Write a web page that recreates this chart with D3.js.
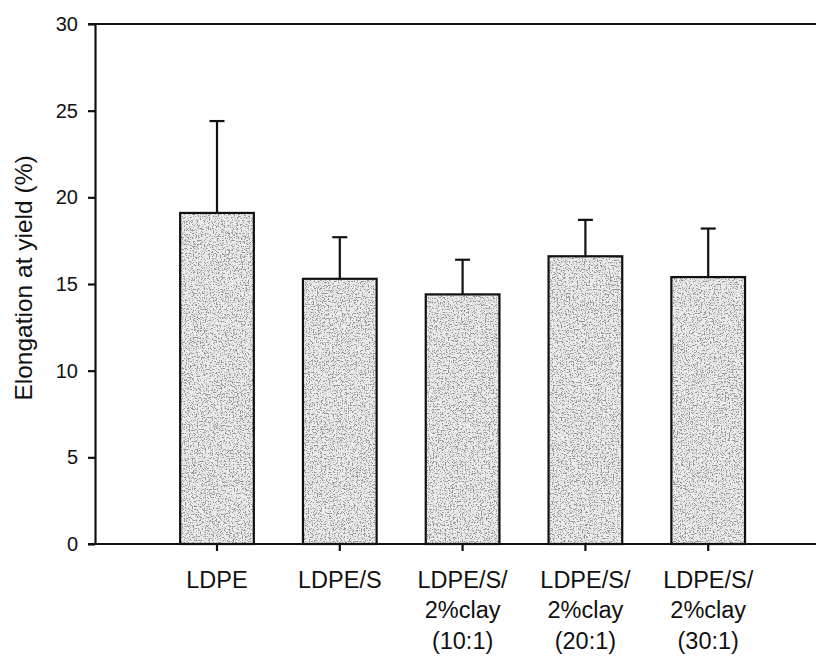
<!DOCTYPE html>
<html>
<head>
<meta charset="utf-8">
<script src="https://cdn.jsdelivr.net/npm/d3@7"></script>
<style>
  html, body { margin: 0; padding: 0; background: #fff; }
  svg { display: block; font-family: "Liberation Sans", Arial, sans-serif; }
</style>
</head>
<body>
<svg id="chart" width="818" height="656"></svg>
<script>
// Elongation at yield for LDPE blends (mean and upper standard deviation)
const categories = [
  ["LDPE"],
  ["LDPE/S"],
  ["LDPE/S/", "2%clay", "(10:1)"],
  ["LDPE/S/", "2%clay", "(20:1)"],
  ["LDPE/S/", "2%clay", "(30:1)"]
];
const means = [19.1, 15.3, 14.4, 16.6, 15.4];
const errors = [5.3, 2.4, 2.0, 2.1, 2.8];
const yTicks = [0, 5, 10, 15, 20, 25, 30];
const yTitle = "Elongation at yield (%)";

const svg = d3.select("#chart");
const keys = categories.map((c, i) => i);

const x = d3.scaleBand()
  .domain(keys)
  .range([94.2, 831])
  .paddingInner(0.4)
  .paddingOuter(0.7);

const y = d3.scaleLinear().domain([0, 30]).range([544, 24]);

// stippled grey texture for the bars
const defs = svg.append("defs");
const f = defs.append("filter").attr("id", "stipple")
  .attr("x", 0).attr("y", 0).attr("width", 1).attr("height", 1);
f.append("feTurbulence").attr("type", "fractalNoise")
  .attr("baseFrequency", 0.75).attr("numOctaves", 3).attr("seed", 11).attr("result", "noise");
f.append("feColorMatrix").attr("in", "noise").attr("type", "matrix")
  .attr("values", "0 0 0 0 0.3  0 0 0 0 0.3  0 0 0 0 0.3  7 0 0 0 -3.55")
  .attr("result", "dots");
f.append("feComposite").attr("in", "dots").attr("in2", "SourceGraphic")
  .attr("operator", "in").attr("result", "dotsIn");
const merge = f.append("feMerge");
merge.append("feMergeNode").attr("in", "SourceGraphic");
merge.append("feMergeNode").attr("in", "dotsIn");

const ink = "#111";

// bars
svg.append("g").selectAll("rect.fill")
  .data(means)
  .join("rect")
  .attr("x", (d, i) => x(i))
  .attr("y", d => y(d))
  .attr("width", x.bandwidth())
  .attr("height", d => y(0) - y(d))
  .attr("fill", "#ececec")
  .attr("filter", "url(#stipple)");

svg.append("g").selectAll("rect.outline")
  .data(means)
  .join("rect")
  .attr("x", (d, i) => x(i))
  .attr("y", d => y(d))
  .attr("width", x.bandwidth())
  .attr("height", d => y(0) - y(d))
  .attr("fill", "none")
  .attr("stroke", ink)
  .attr("stroke-width", 2.2);

// upper error bars
const eb = svg.append("g").attr("stroke", ink).attr("stroke-width", 2.2);
means.forEach((m, i) => {
  const cx = x(i) + x.bandwidth() / 2;
  eb.append("line").attr("x1", cx).attr("x2", cx)
    .attr("y1", y(m)).attr("y2", y(m + errors[i]));
  eb.append("line").attr("x1", cx - 7.5).attr("x2", cx + 7.5)
    .attr("y1", y(m + errors[i])).attr("y2", y(m + errors[i]));
});

// y axis
const yAxis = svg.append("g")
  .attr("transform", "translate(95,0)")
  .attr("font-size", 20)
  .call(d3.axisLeft(y).tickValues(yTicks).tickSize(7).tickPadding(10).tickSizeOuter(0));
yAxis.attr("font-size", 20).attr("font-family", "Liberation Sans, Arial, sans-serif");
yAxis.select(".domain").attr("stroke", ink).attr("stroke-width", 2.2);
yAxis.selectAll(".tick line").attr("stroke", ink).attr("stroke-width", 2.2);
yAxis.selectAll(".tick text").attr("fill", ink);

// top frame line and x axis baseline
svg.append("line").attr("x1", 88).attr("x2", 816)
  .attr("y1", y(30)).attr("y2", y(30))
  .attr("stroke", ink).attr("stroke-width", 2.2);

const xAxis = svg.append("g")
  .attr("transform", `translate(0,${y(0)})`)
  .call(d3.axisBottom(x).tickSize(7).tickSizeOuter(0).tickFormat(() => ""));
xAxis.select(".domain").remove();
xAxis.selectAll(".tick line").attr("stroke", ink).attr("stroke-width", 2.2);
svg.append("line").attr("x1", 88).attr("x2", 816)
  .attr("y1", y(0)).attr("y2", y(0))
  .attr("stroke", ink).attr("stroke-width", 2.2);

// multi-line category labels
const lab = svg.append("g").attr("font-size", 23.5).attr("fill", ink).attr("text-anchor", "middle");
categories.forEach((lines, i) => {
  const t = lab.append("text")
    .attr("x", x(i) + x.bandwidth() / 2)
    .attr("y", 587.5);
  lines.forEach((s, j) => {
    t.append("tspan")
      .attr("x", x(i) + x.bandwidth() / 2)
      .attr("dy", j === 0 ? 0 : 30.5)
      .text(s);
  });
});

// y axis title
svg.append("text")
  .attr("transform", "translate(32,278) rotate(-90)")
  .attr("text-anchor", "middle")
  .attr("font-size", 24.5)
  .attr("fill", ink)
  .text(yTitle);
</script>
</body>
</html>
